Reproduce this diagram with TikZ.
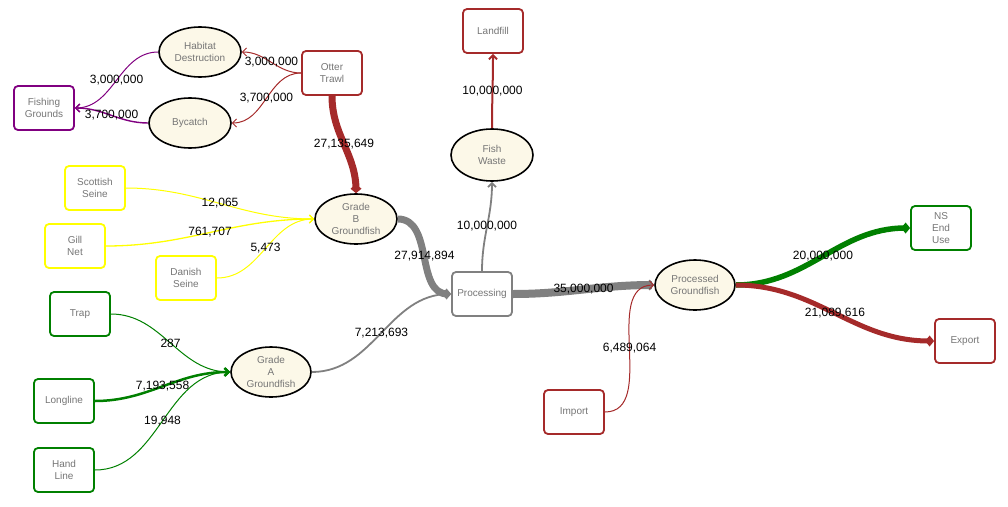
\documentclass[tikz,border=0pt]{standalone}
\usepackage{fontspec}
\setmainfont{Liberation Sans}
\usetikzlibrary{shapes.geometric,arrows.meta}
\definecolor{ellfill}{HTML}{FCF8E8}
\definecolor{ntext}{HTML}{767676}
\definecolor{cred}{HTML}{A52A2A}
\definecolor{cpurple}{HTML}{800080}
\definecolor{cyellow}{HTML}{FFFF00}
\definecolor{cgreen}{HTML}{008000}
\definecolor{cgrey}{HTML}{808080}
\tikzset{
  box/.style={draw, rounded corners=4pt, line width=1.8pt, minimum width=60pt, minimum height=44pt,
    inner sep=0pt, align=center, font=\fontsize{10}{12}\selectfont, text=ntext, fill=white},
  ell/.style={ellipse, draw=black, line width=1.6pt, fill=ellfill, minimum width=82pt, minimum height=50pt,
    inner sep=0pt, align=center, font=\fontsize{10}{12}\selectfont, text=ntext},
  lbl/.style={font=\fontsize{12}{14}\selectfont, text=black, inner sep=0pt},
  thin/.style={-{Straight Barb[length=4pt,width=8pt]}, line width=1pt},
  big/.style={-{Diamond[length=9pt,width=11pt]}},
}
\begin{document}
\begin{tikzpicture}[x=1pt,y=1pt]
\useasboundingbox (0,0) rectangle (1008,-506);
% nodes
\node[box, draw=cpurple] (fish) at (44,-108) {Fishing\\Grounds};
\node[ell] (hab) at (200,-52) {Habitat\\Destruction};
\node[ell] (byc) at (190,-123) {Bycatch};
\node[box, draw=cred] (otter) at (332,-73) {Otter\\Trawl};
\node[ell] (gb) at (356,-219) {Grade\\B\\Groundfish};
\node[box, draw=cyellow] (scot) at (95,-188) {Scottish\\Seine};
\node[box, draw=cyellow] (gill) at (75,-246) {Gill\\Net};
\node[box, draw=cyellow] (dan) at (186,-278) {Danish\\Seine};
\node[box, draw=cgreen] (trap) at (80,-314) {Trap};
\node[box, draw=cgreen] (long) at (64,-401) {Longline};
\node[box, draw=cgreen] (hand) at (64,-470) {Hand\\Line};
\node[ell, minimum width=80pt] (ga) at (271,-372) {Grade\\A\\Groundfish};
\node[box, draw=cgrey] (proc) at (482,-294) {Processing};
\node[ell, minimum height=52pt] (waste) at (492,-155) {Fish\\Waste};
\node[box, draw=cred] (land) at (493,-31) {Landfill};
\node[ell, minimum width=80pt] (pg) at (695,-285) {Processed\\Groundfish};
\node[box, draw=cgreen] (ns) at (941,-228) {NS\\End\\Use};
\node[box, draw=cred] (exp) at (965,-341) {Export};
\node[box, draw=cred] (imp) at (574,-412) {Import};
% connectors
\draw[thin, cred] (otter.west) to[out=180,in=0] node[lbl]{3,000,000} (hab.east);
\draw[thin, cred] (otter.west) to[out=180,in=0] node[lbl]{3,700,000} (byc.east);
\draw[thin, cpurple] (hab.west) to[out=180,in=0] node[lbl]{3,000,000} (fish.east);
\draw[thin, cpurple, line width=1.4pt] (byc.west) to[out=180,in=0] node[lbl]{3,700,000} (fish.east);
\draw[big, cred, line width=7pt] (otter.south) to[out=-90,in=90] node[lbl]{27,135,649} (gb.north);
\draw[thin, cyellow] (scot.east) to[out=0,in=180] node[lbl]{12,065} (gb.west);
\draw[thin, cyellow, line width=1.3pt] (gill.east) to[out=0,in=180] node[lbl]{761,707} (gb.west);
\draw[thin, cyellow] (dan.east) to[out=0,in=180] node[lbl]{5,473} (gb.west);
\draw[big, cgrey, line width=7pt] (gb.east) to[out=0,in=180] node[lbl]{27,914,894} (proc.west);
\draw[thin, cgrey, line width=1.8pt] (ga.east) to[out=0,in=180] node[lbl]{7,213,693} (proc.west);
\draw[thin, cgrey, line width=1.8pt] (proc.north) to[out=90,in=-90] node[lbl]{10,000,000} (waste.south);
\draw[thin, cred, line width=2pt] (waste.north) to[out=90,in=-90] node[lbl]{10,000,000} (land.south);
\draw[big, cgrey, line width=8pt] (proc.east) to[out=0,in=180] node[lbl]{35,000,000} (pg.west);
\draw[thin, cred] (imp.east) to[out=0,in=180] node[lbl]{6,489,064} (pg.west);
\draw[big, cgreen, line width=5.5pt] (pg.east) to[out=0,in=180] node[lbl]{20,000,000} (ns.west);
\draw[big, cred, line width=5pt] (pg.east) to[out=0,in=180] node[lbl]{21,089,616} (exp.west);
\draw[thin, cgreen] (trap.east) to[out=0,in=180] node[lbl]{287} (ga.west);
\draw[thin, cgreen, line width=2.5pt] (long.east) to[out=0,in=180] node[lbl]{7,193,558} (ga.west);
\draw[thin, cgreen] (hand.east) to[out=0,in=180] node[lbl]{19,948} (ga.west);
\end{tikzpicture}
\end{document}
